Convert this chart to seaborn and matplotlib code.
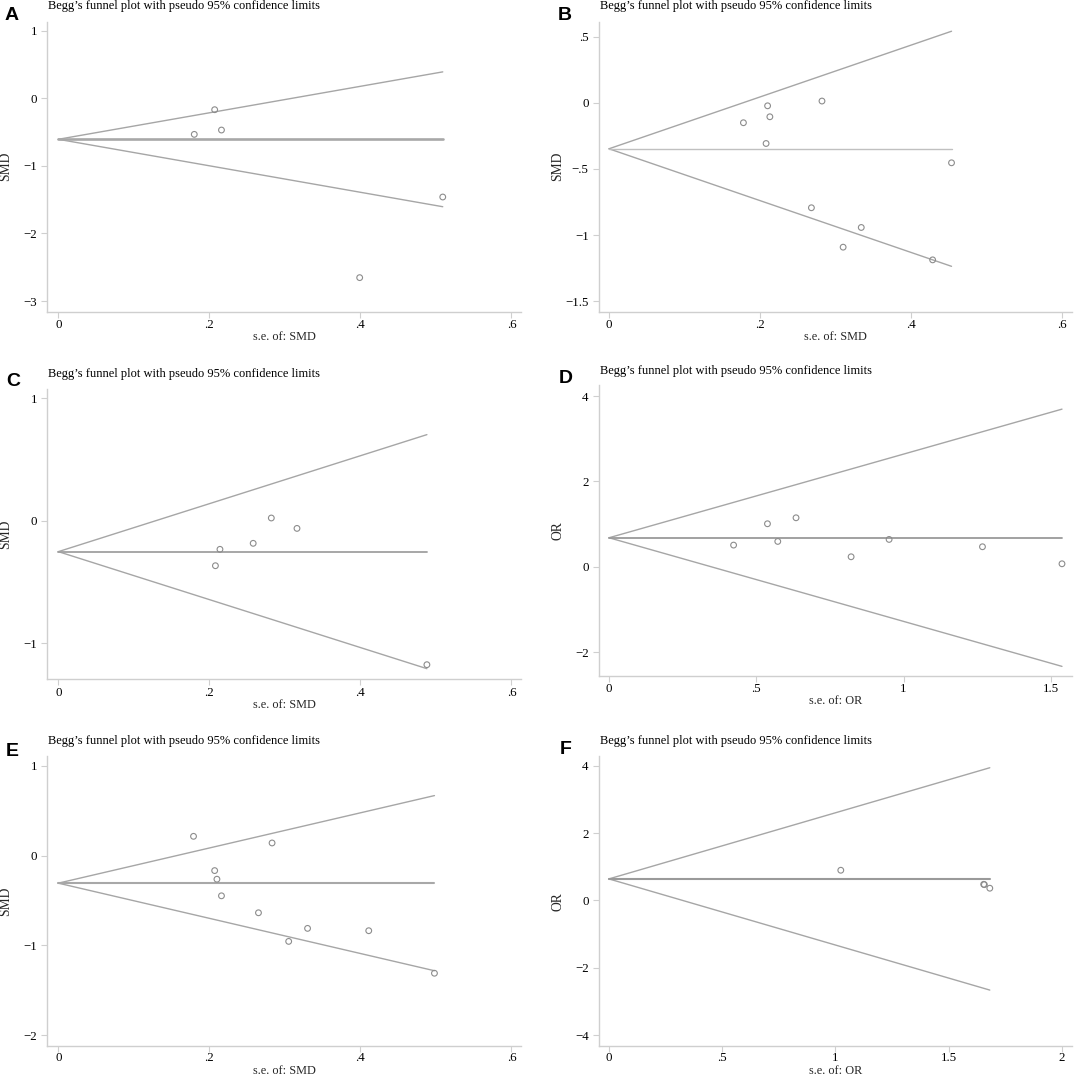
import numpy as np
import pandas as pd
import matplotlib
matplotlib.use("Agg")
import matplotlib.pyplot as plt
import seaborn as sns

# ---------------- data ----------------
panel_letters = ["A", "B", "C", "D", "E", "F"]
title_text = "Begg\u2019s funnel plot with pseudo 95% confidence limits"

# Panel A
a_se = [0.180, 0.207, 0.216, 0.399, 0.509]
a_eff = [-0.534, -0.169, -0.470, -2.654, -1.461]
a_pooled = -0.607
# Panel B
b_se = [0.178, 0.210, 0.213, 0.208, 0.282, 0.268, 0.334, 0.310, 0.4285, 0.4535]
b_eff = [-0.151, -0.023, -0.106, -0.308, 0.013, -0.794, -0.943, -1.092, -1.188, -0.454]
b_pooled = -0.348
# Panel C
c_se = [0.208, 0.214, 0.258, 0.282, 0.316, 0.488]
c_eff = [-0.368, -0.234, -0.185, 0.022, -0.063, -1.177]
c_pooled = -0.253
# Panel D
d_se = [0.423, 0.538, 0.573, 0.635, 0.822, 0.951, 1.268, 1.538]
d_eff = [0.508, 1.008, 0.594, 1.148, 0.234, 0.641, 0.469, 0.070]
d_pooled = 0.680
# Panel E
e_se = [0.179, 0.207, 0.210, 0.216, 0.265, 0.283, 0.305, 0.330, 0.411, 0.498]
e_eff = [0.215, -0.167, -0.263, -0.448, -0.637, 0.141, -0.956, -0.811, -0.837, -1.311]
e_pooled = -0.307
# Panel F
f_se = [1.024, 1.655, 1.658, 1.682]
f_eff = [0.897, 0.480, 0.470, 0.364]
f_pooled = 0.640

y_labels = ["SMD", "SMD", "SMD", "OR", "SMD", "OR"]
x_labels = ["s.e. of: SMD", "s.e. of: SMD", "s.e. of: SMD", "s.e. of: OR", "s.e. of: SMD", "s.e. of: OR"]

x_ticks_smd = [0, 0.2, 0.4, 0.6]
x_ticklabels_smd = ["0", ".2", ".4", ".6"]
x_ticks_or_d = [0, 0.5, 1, 1.5]
x_ticklabels_or_d = ["0", ".5", "1", "1.5"]
x_ticks_or_f = [0, 0.5, 1, 1.5, 2]
x_ticklabels_or_f = ["0", ".5", "1", "1.5", "2"]

y_ticks_a = [1, 0, -1, -2, -3]
y_ticklabels_a = ["1", "0", "\u22121", "\u22122", "\u22123"]
y_ticks_b = [0.5, 0, -0.5, -1, -1.5]
y_ticklabels_b = [".5", "0", "\u2212.5", "\u22121", "\u22121.5"]
y_ticks_c = [1, 0, -1]
y_ticklabels_c = ["1", "0", "\u22121"]
y_ticks_d = [4, 2, 0, -2]
y_ticklabels_d = ["4", "2", "0", "\u22122"]
y_ticks_e = [1, 0, -1, -2]
y_ticklabels_e = ["1", "0", "\u22121", "\u22122"]
y_ticks_f = [4, 2, 0, -2, -4]
y_ticklabels_f = ["4", "2", "0", "\u22122", "\u22124"]

# ---------------- styling / layout ----------------
sns.set_theme(style="white")
plt.rcParams["font.family"] = ["Liberation Serif", "DejaVu Serif"]
plt.rcParams["axes.unicode_minus"] = True

W, H = 1074, 1077
DPI = 100
fig = plt.figure(figsize=(W / DPI, H / DPI), dpi=DPI)
fig.patch.set_facecolor("white")

# axes boxes in pixels: left, right, top, bottom
boxes = [
    (47, 521.3, 21.7, 311.7),
    (598.7, 1072, 21.7, 311.7),
    (47, 521.3, 389.3, 679),
    (598.7, 1072, 385, 676),
    (47, 521.3, 756.3, 1046),
    (598.7, 1072, 756.3, 1046),
]
xlims = [(-0.015, 0.613), (-0.0136, 0.613), (-0.015, 0.613),
         (-0.035, 1.572), (-0.015, 0.613), (-0.045, 2.045)]
ylims = [(-3.158, 1.133), (-1.58, 0.613), (-1.294, 1.074),
         (-2.56, 4.26), (-2.122, 1.107), (-4.315, 4.276)]
title_y = [6, 6, 374, 371, 741, 741]
letter_pos = [(12, 15), (565, 15), (13, 382), (566, 379), (12, 751), (566, 750)]
# vertical position (px from figure top) of the x-axis title baseline box bottom
xlabel_bottom_px = [343, 343, 710.5, 707.5, 1076.5, 1076.5]
xtick_pad = [1.2, 1.2, 1.2, 1.2, 0.4, 0.4]

pooled_lw = [1.9, 1.0, 1.3, 1.3, 1.5, 1.5]
pooled_col = ["#a8a8a8", "#c0c0c0", "#a0a0a0", "#9a9a9a", "#a8a8a8", "#9a9a9a"]

ses = [a_se, b_se, c_se, d_se, e_se, f_se]
effs = [a_eff, b_eff, c_eff, d_eff, e_eff, f_eff]
pooleds = [a_pooled, b_pooled, c_pooled, d_pooled, e_pooled, f_pooled]
xt = [(x_ticks_smd, x_ticklabels_smd)] * 3 + [(x_ticks_or_d, x_ticklabels_or_d),
      (x_ticks_smd, x_ticklabels_smd), (x_ticks_or_f, x_ticklabels_or_f)]
yt = [(y_ticks_a, y_ticklabels_a), (y_ticks_b, y_ticklabels_b), (y_ticks_c, y_ticklabels_c),
      (y_ticks_d, y_ticklabels_d), (y_ticks_e, y_ticklabels_e), (y_ticks_f, y_ticklabels_f)]

spine_col = "#cfcfcf"
funnel_col = "#a6a6a6"
marker_col = "#8c8c8c"
FS_TICK = 9.3
FS_TITLE = 9.0
FS_XLAB = 8.8
FS_YLAB = 9.8

for i in range(6):
    l, r, t, b = boxes[i]
    ax = fig.add_axes([l / W, 1 - b / H, (r - l) / W, (b - t) / H])
    ax.set_facecolor("white")
    se = np.array(ses[i])
    eff = np.array(effs[i])
    pooled = pooleds[i]
    se_max = se.max()

    # pseudo 95% confidence limits
    funnel = pd.DataFrame({
        "x": [0, se_max, 0, se_max],
        "y": [pooled, pooled + 1.96 * se_max, pooled, pooled - 1.96 * se_max],
        "g": ["u", "u", "l", "l"],
    })
    for g in ["u", "l"]:
        sub = funnel[funnel.g == g]
        sns.lineplot(data=sub, x="x", y="y", ax=ax, color=funnel_col, lw=1.0,
                     estimator=None, sort=False)
    pooled_df = pd.DataFrame({"x": [0, se_max], "y": [pooled, pooled]})
    sns.lineplot(data=pooled_df, x="x", y="y", ax=ax, color=pooled_col[i], lw=pooled_lw[i],
                 estimator=None, sort=False)

    pts = pd.DataFrame({"se": se, "eff": eff})
    sns.scatterplot(data=pts, x="se", y="eff", ax=ax, marker="o", s=17,
                    facecolors="none", edgecolors=marker_col, linewidth=0.8, zorder=3)

    ax.set_xlim(*xlims[i])
    ax.set_ylim(*ylims[i])
    ax.set_xticks(xt[i][0])
    ax.set_xticklabels(xt[i][1], fontsize=FS_TICK)
    ax.set_yticks(yt[i][0])
    ax.set_yticklabels(yt[i][1], fontsize=FS_TICK)
    ax.tick_params(axis="both", which="major", length=4.2, width=0.8, color=spine_col,
                   direction="out", labelcolor="black",
                   bottom=True, left=True, top=False, right=False)
    ax.tick_params(axis="x", pad=xtick_pad[i])
    ax.tick_params(axis="y", pad=3.0)
    for s in ["top", "right"]:
        ax.spines[s].set_visible(False)
    for s in ["left", "bottom"]:
        ax.spines[s].set_color(spine_col)
        ax.spines[s].set_linewidth(1.0)
    ax.grid(False)

    wpx = r - l
    hpx = b - t
    ax.set_xlabel(x_labels[i], fontsize=FS_XLAB, va="bottom")
    ax.xaxis.set_label_coords(0.5, -(xlabel_bottom_px[i] - b) / hpx)
    ax.set_ylabel(y_labels[i], fontsize=FS_YLAB, va="center", ha="center")
    ax.yaxis.set_label_coords(-41 / wpx, 0.5)

    fig.text((l + 1) / W, 1 - title_y[i] / H, title_text, fontsize=FS_TITLE,
             ha="left", va="center", color="black")
    lx, ly = letter_pos[i]
    fig.text(lx / W, 1 - ly / H, panel_letters[i], fontsize=14, fontweight="bold",
             family=["Liberation Sans", "DejaVu Sans"], ha="center", va="center",
             color="black")

fig.savefig("out.png", dpi=DPI, facecolor="white")
